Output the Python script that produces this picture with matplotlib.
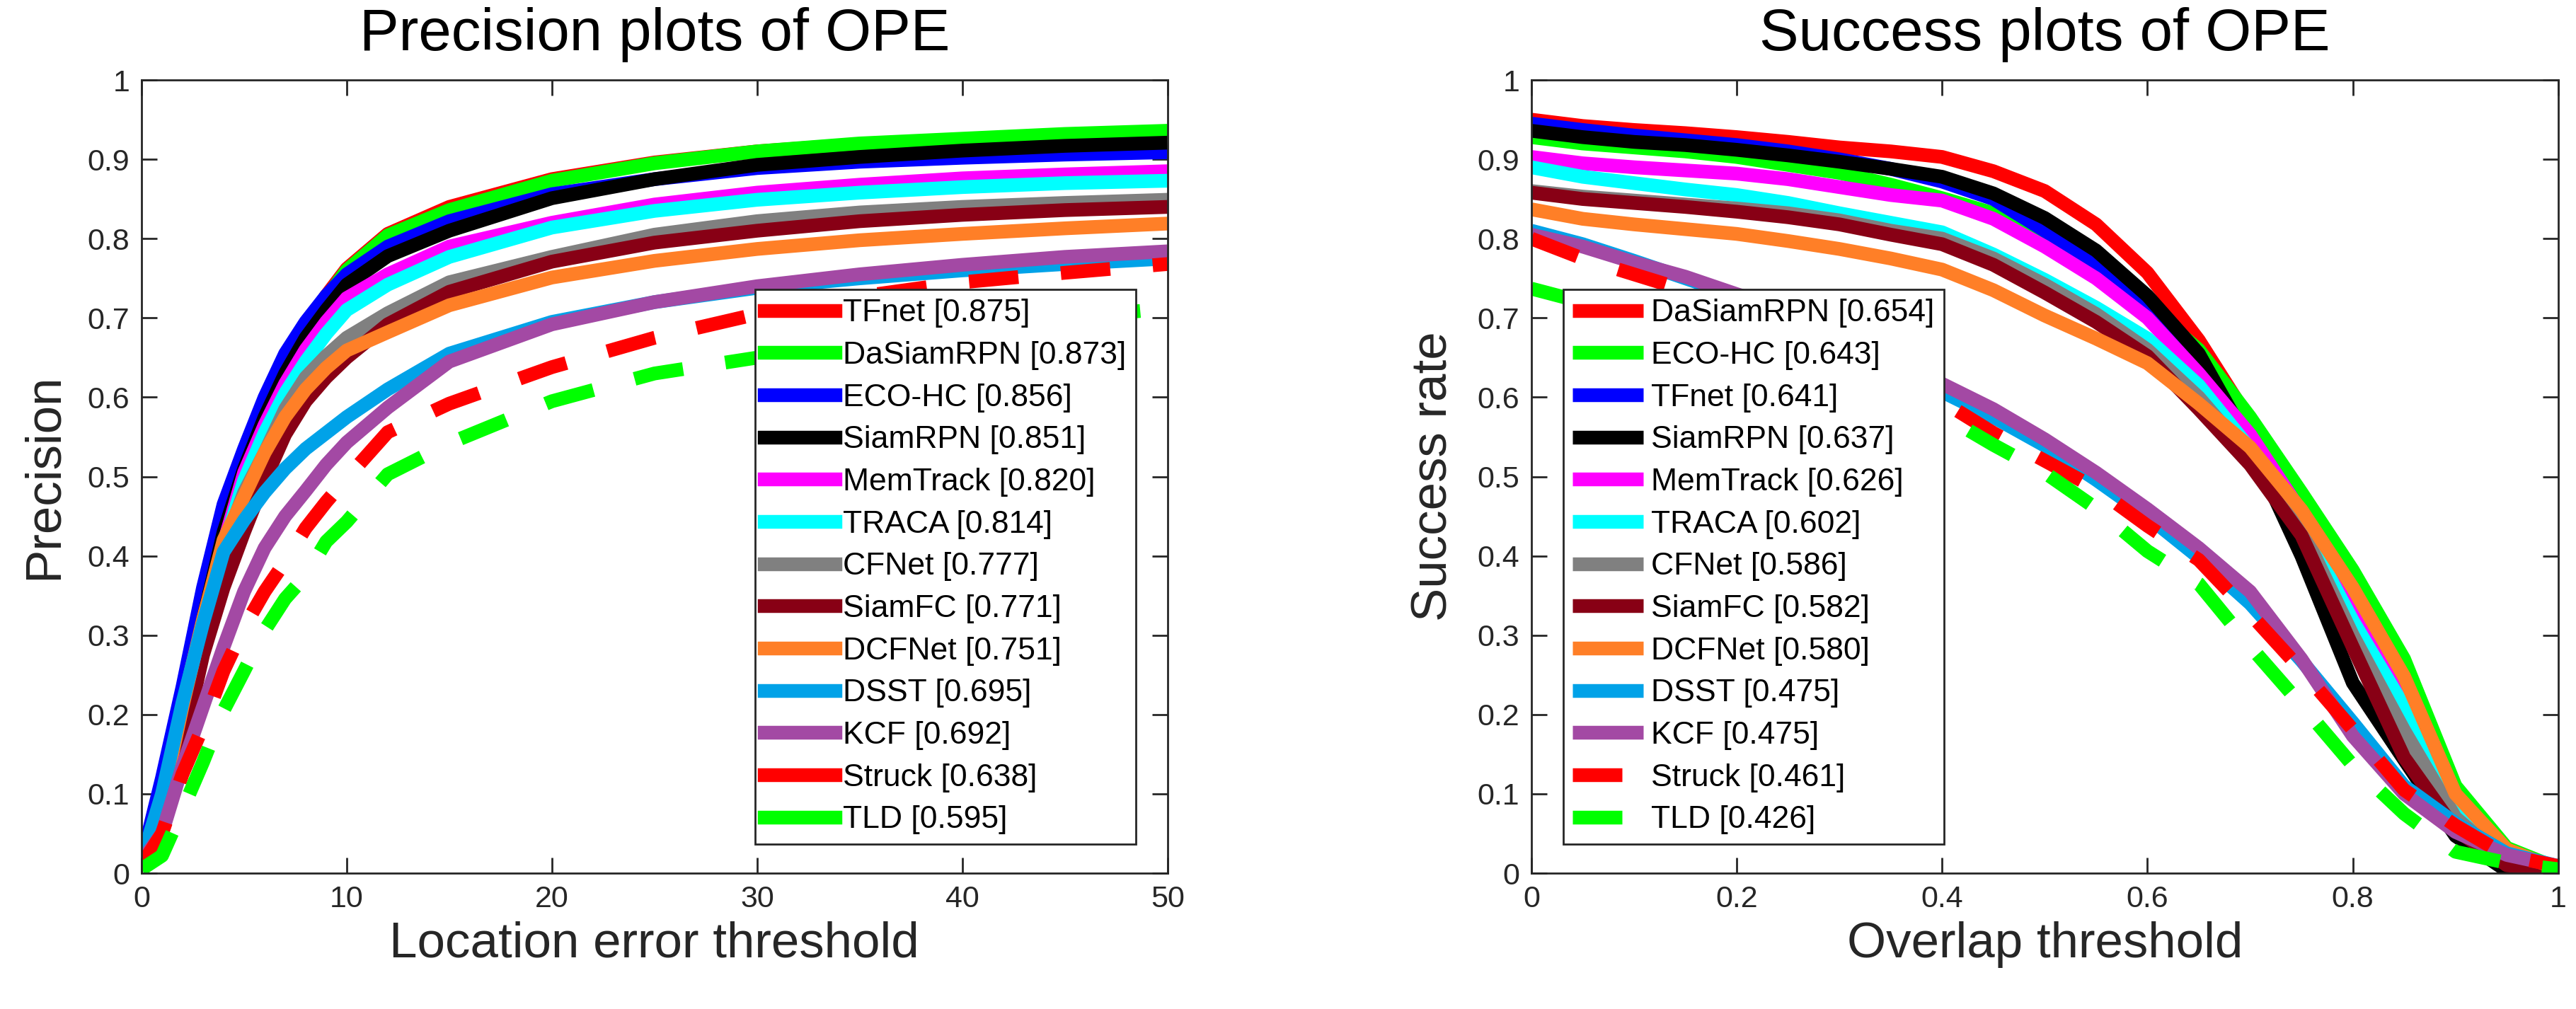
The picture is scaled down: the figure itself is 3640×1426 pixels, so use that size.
import matplotlib
matplotlib.use('Agg')
import matplotlib.pyplot as plt
from matplotlib.lines import Line2D

plt.rcParams['font.family'] = ['Liberation Sans', 'DejaVu Sans']

# line colours by rank slot (same in both panels)
colors = ['#FF0000', '#00FF00', '#0000FF', '#000000', '#FF00FF', '#00FFFF',
          '#808080', '#880015', '#FF7F27', '#00A2E8', '#A349A4', '#FF0000', '#00FF00']
dashed = [False] * 11 + [True, True]

# ---- precision plot data ----
prec_x = [0, 1, 2, 3, 4, 5, 6, 7, 8, 9, 10, 12, 15, 20, 25, 30, 35, 40, 45, 50]
prec_names = ['TFnet', 'DaSiamRPN', 'ECO-HC', 'SiamRPN', 'MemTrack', 'TRACA', 'CFNet',
              'SiamFC', 'DCFNet', 'DSST', 'KCF', 'Struck', 'TLD']
prec_scores = ['0.875', '0.873', '0.856', '0.851', '0.820', '0.814', '0.777',
               '0.771', '0.751', '0.695', '0.692', '0.638', '0.595']
prec_tfnet = [0.015, 0.10, 0.21, 0.33, 0.44, 0.52, 0.585, 0.64, 0.688, 0.728, 0.762, 0.806, 0.84, 0.875, 0.896, 0.91, 0.919, 0.925, 0.93, 0.934]
prec_dasiam = [0.015, 0.10, 0.21, 0.33, 0.44, 0.52, 0.585, 0.64, 0.685, 0.725, 0.76, 0.804, 0.836, 0.873, 0.895, 0.91, 0.92, 0.926, 0.932, 0.936]
prec_eco = [0.015, 0.12, 0.235, 0.36, 0.465, 0.535, 0.60, 0.655, 0.695, 0.728, 0.755, 0.79, 0.822, 0.856, 0.875, 0.889, 0.897, 0.902, 0.906, 0.909]
prec_siamrpn = [0.015, 0.09, 0.20, 0.32, 0.43, 0.51, 0.575, 0.63, 0.675, 0.71, 0.742, 0.778, 0.81, 0.851, 0.875, 0.893, 0.903, 0.911, 0.917, 0.921]
prec_memtrack = [0.015, 0.085, 0.19, 0.31, 0.415, 0.505, 0.565, 0.617, 0.66, 0.695, 0.725, 0.755, 0.79, 0.82, 0.843, 0.858, 0.868, 0.876, 0.881, 0.885]
prec_traca = [0.015, 0.085, 0.19, 0.305, 0.41, 0.495, 0.555, 0.605, 0.645, 0.68, 0.71, 0.742, 0.777, 0.814, 0.835, 0.849, 0.858, 0.865, 0.87, 0.873]
prec_cfnet = [0.015, 0.09, 0.20, 0.31, 0.41, 0.48, 0.53, 0.585, 0.625, 0.652, 0.675, 0.706, 0.745, 0.777, 0.805, 0.822, 0.833, 0.84, 0.845, 0.849]
prec_siamfc = [0.015, 0.06, 0.16, 0.275, 0.36, 0.43, 0.495, 0.553, 0.595, 0.625, 0.65, 0.692, 0.733, 0.771, 0.795, 0.81, 0.822, 0.83, 0.836, 0.84]
prec_dcfnet = [0.015, 0.09, 0.21, 0.32, 0.42, 0.475, 0.53, 0.575, 0.61, 0.637, 0.659, 0.682, 0.716, 0.751, 0.772, 0.787, 0.798, 0.806, 0.813, 0.819]
prec_dsst = [0.015, 0.10, 0.215, 0.315, 0.405, 0.445, 0.48, 0.51, 0.535, 0.555, 0.575, 0.61, 0.655, 0.695, 0.72, 0.738, 0.75, 0.76, 0.768, 0.775]
prec_kcf = [0.015, 0.05, 0.135, 0.21, 0.285, 0.355, 0.41, 0.45, 0.482, 0.515, 0.543, 0.587, 0.645, 0.692, 0.72, 0.74, 0.755, 0.767, 0.777, 0.784]
prec_struck = [0.01, 0.05, 0.125, 0.185, 0.255, 0.31, 0.355, 0.393, 0.435, 0.468, 0.498, 0.556, 0.592, 0.638, 0.675, 0.705, 0.727, 0.745, 0.757, 0.768]
prec_tld = [0.005, 0.022, 0.08, 0.14, 0.205, 0.255, 0.306, 0.346, 0.375, 0.418, 0.443, 0.503, 0.542, 0.595, 0.63, 0.65, 0.67, 0.685, 0.70, 0.712]
prec_curves = [prec_tfnet, prec_dasiam, prec_eco, prec_siamrpn, prec_memtrack, prec_traca,
               prec_cfnet, prec_siamfc, prec_dcfnet, prec_dsst, prec_kcf, prec_struck, prec_tld]

# ---- success plot data ----
succ_x = [0, 0.05, 0.1, 0.15, 0.2, 0.25, 0.3, 0.35, 0.4, 0.45, 0.5,
          0.55, 0.6, 0.65, 0.7, 0.75, 0.8, 0.85, 0.9, 0.95, 1.0]
succ_names = ['DaSiamRPN', 'ECO-HC', 'TFnet', 'SiamRPN', 'MemTrack', 'TRACA', 'CFNet',
              'SiamFC', 'DCFNet', 'DSST', 'KCF', 'Struck', 'TLD']
succ_scores = ['0.654', '0.643', '0.641', '0.637', '0.626', '0.602', '0.586',
               '0.582', '0.580', '0.475', '0.475', '0.461', '0.426']
succ_dasiam = [0.95, 0.942, 0.937, 0.933, 0.928, 0.922, 0.915, 0.91, 0.903, 0.885, 0.86, 0.818, 0.757, 0.672, 0.57, 0.465, 0.36, 0.24, 0.095, 0.025, 0.005]
succ_eco = [0.928, 0.92, 0.915, 0.91, 0.903, 0.893, 0.883, 0.868, 0.851, 0.832, 0.797, 0.76, 0.715, 0.66, 0.575, 0.48, 0.382, 0.27, 0.11, 0.032, 0.006]
succ_tfnet = [0.945, 0.937, 0.93, 0.924, 0.918, 0.91, 0.90, 0.888, 0.872, 0.85, 0.81, 0.77, 0.71, 0.63, 0.54, 0.44, 0.32, 0.20, 0.075, 0.02, 0.005]
succ_siamrpn = [0.936, 0.928, 0.922, 0.918, 0.912, 0.905, 0.897, 0.888, 0.878, 0.857, 0.826, 0.785, 0.728, 0.655, 0.54, 0.40, 0.24, 0.143, 0.047, 0.003, 0.003]
succ_memtrack = [0.903, 0.895, 0.89, 0.886, 0.882, 0.875, 0.865, 0.855, 0.848, 0.825, 0.79, 0.75, 0.70, 0.63, 0.553, 0.455, 0.335, 0.225, 0.09, 0.025, 0.005]
succ_traca = [0.89, 0.878, 0.87, 0.862, 0.855, 0.845, 0.832, 0.82, 0.808, 0.78, 0.748, 0.713, 0.674, 0.615, 0.535, 0.44, 0.318, 0.21, 0.085, 0.02, 0.005]
succ_cfnet = [0.86, 0.853, 0.848, 0.843, 0.838, 0.832, 0.823, 0.81, 0.80, 0.775, 0.742, 0.705, 0.66, 0.60, 0.525, 0.435, 0.30, 0.18, 0.07, 0.015, 0.004]
succ_siamfc = [0.858, 0.85, 0.845, 0.84, 0.834, 0.827, 0.818, 0.805, 0.793, 0.767, 0.732, 0.695, 0.652, 0.585, 0.515, 0.426, 0.285, 0.146, 0.055, 0.01, 0.004]
succ_dcfnet = [0.837, 0.825, 0.818, 0.812, 0.806, 0.797, 0.787, 0.775, 0.761, 0.735, 0.703, 0.674, 0.643, 0.592, 0.537, 0.458, 0.36, 0.248, 0.10, 0.03, 0.005]
succ_dsst = [0.81, 0.793, 0.772, 0.75, 0.728, 0.705, 0.68, 0.648, 0.607, 0.575, 0.539, 0.496, 0.45, 0.398, 0.34, 0.268, 0.19, 0.11, 0.063, 0.025, 0.009]
succ_kcf = [0.805, 0.79, 0.77, 0.752, 0.73, 0.71, 0.685, 0.652, 0.617, 0.585, 0.547, 0.505, 0.459, 0.41, 0.355, 0.27, 0.173, 0.10, 0.052, 0.023, 0.009]
succ_struck = [0.80, 0.775, 0.755, 0.735, 0.71, 0.685, 0.655, 0.625, 0.595, 0.555, 0.52, 0.485, 0.438, 0.395, 0.327, 0.256, 0.181, 0.105, 0.06, 0.022, 0.009]
succ_tld = [0.737, 0.72, 0.70, 0.68, 0.66, 0.64, 0.62, 0.60, 0.578, 0.54, 0.505, 0.46, 0.406, 0.365, 0.286, 0.212, 0.136, 0.075, 0.027, 0.013, 0.005]
succ_curves = [succ_dasiam, succ_eco, succ_tfnet, succ_siamrpn, succ_memtrack, succ_traca,
               succ_cfnet, succ_siamfc, succ_dcfnet, succ_dsst, succ_kcf, succ_struck, succ_tld]

LW = 14
DASH = (3.6, 3.1)
AX_COLOR = '#262626'

fig = plt.figure(figsize=(36.41, 14.26), dpi=100)
ax1 = fig.add_axes([0.0549, 0.1346, 0.3982, 0.7861])
ax2 = fig.add_axes([0.5943, 0.1346, 0.3985, 0.7861])


def draw_panel(ax, xs, curves, names, scores, solid_legend):
    handles = []
    for k, ys in enumerate(curves):
        lab = '%s [%s]' % (names[k], scores[k])
        ln, = ax.plot(xs, ys, color=colors[k], lw=LW, solid_capstyle='butt', label=lab)
        if dashed[k]:
            ln.set_dashes(DASH)
        if solid_legend:
            handles.append(Line2D([], [], color=colors[k], lw=LW, label=lab))
        else:
            handles.append(ln)
    return handles


def style(ax, xmax, xticks, xticklabels, xlabel, ylabel, title):
    ax.set_xlim(0, xmax)
    ax.set_ylim(0, 1)
    ax.set_xticks(xticks)
    ax.set_xticklabels(xticklabels)
    ax.set_yticks([i / 10 for i in range(11)])
    ax.set_yticklabels(['0', '0.1', '0.2', '0.3', '0.4', '0.5', '0.6', '0.7', '0.8', '0.9', '1'])
    ax.tick_params(direction='in', length=16, width=2, colors=AX_COLOR, labelsize=31,
                   top=True, right=True, pad=12)
    for s in ax.spines.values():
        s.set_linewidth(2)
        s.set_color(AX_COLOR)
    ax.set_xlabel(xlabel, fontsize=51, color=AX_COLOR, labelpad=8)
    ax.set_ylabel(ylabel, fontsize=51, color=AX_COLOR, labelpad=20)
    ax.set_title(title, fontsize=60, pad=30)


def add_legend(ax, handles, loc, anchor):
    leg = ax.legend(handles=handles, loc=loc, bbox_to_anchor=anchor,
                    fontsize=32, frameon=True, fancybox=False, framealpha=1,
                    edgecolor=AX_COLOR, handlelength=2.25, handletextpad=0.25,
                    labelspacing=0.42, borderpad=0.3, borderaxespad=0)
    leg.get_frame().set_linewidth(2)
    return leg


h1 = draw_panel(ax1, prec_x, prec_curves, prec_names, prec_scores, True)
style(ax1, 50, [0, 10, 20, 30, 40, 50], ['0', '10', '20', '30', '40', '50'],
      'Location error threshold', 'Precision', 'Precision plots of OPE')
add_legend(ax1, h1, 'lower right', (0.969, 0.037))

h2 = draw_panel(ax2, succ_x, succ_curves, succ_names, succ_scores, False)
style(ax2, 1, [0, 0.2, 0.4, 0.6, 0.8, 1], ['0', '0.2', '0.4', '0.6', '0.8', '1'],
      'Overlap threshold', 'Success rate', 'Success plots of OPE')
add_legend(ax2, h2, 'lower left', (0.031, 0.037))

fig.savefig('out.png', dpi=100)
